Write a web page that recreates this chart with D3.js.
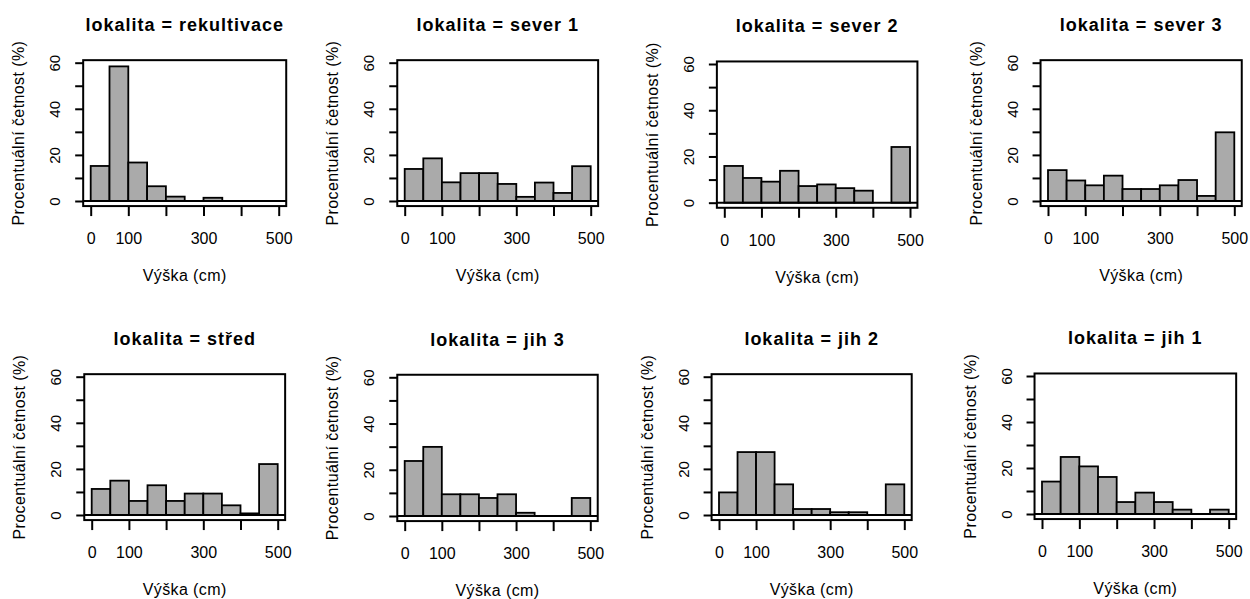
<!DOCTYPE html>
<html>
<head>
<meta charset="utf-8">
<script src="https://cdn.jsdelivr.net/npm/d3@7"></script>
<style>
body { margin: 0; background: #fff; }
text { font-family: "Liberation Sans", Arial, sans-serif; fill: #000; }
.title { font-size: 18px; font-weight: bold; letter-spacing: 1px; }
.axistitle { font-size: 16px; letter-spacing: 0.4px; }
</style>
</head>
<body>
<script>
// histogram bins (cm)
var binEdges = [0, 50, 100, 150, 200, 250, 300, 350, 400, 450, 500];

var lokality = ["rekultivace", "sever 1", "sever 2", "sever 3", "střed", "jih 3", "jih 2", "jih 1"];

// percent per bin
var rekultivace = [15.2, 58.4, 16.7, 6.4, 1.9, 0, 1.4, 0, 0, 0];
var sever1 = [13.9, 18.5, 8.1, 12.1, 12.1, 7.4, 1.8, 8.0, 3.5, 15.1];
var sever2 = [15.9, 10.7, 9.1, 13.8, 7.2, 7.9, 6.3, 5.2, 0, 24.1];
var sever3 = [13.4, 8.9, 6.8, 11.0, 5.2, 5.2, 6.8, 9.1, 2.2, 29.8];
var stred = [11.3, 14.9, 6.1, 12.9, 6.1, 9.3, 9.3, 4.2, 0.7, 22.1];
var jih3 = [23.8, 29.9, 9.4, 9.4, 7.8, 9.4, 1.4, 0, 0, 7.8];
var jih2 = [9.8, 27.3, 27.3, 13.3, 2.6, 2.6, 1.2, 1.2, 0, 13.3];
var jih1 = [14.1, 24.8, 20.7, 16.1, 5.2, 9.3, 5.2, 1.9, 0, 1.9];

var series = [rekultivace, sever1, sever2, sever3, stred, jih3, jih2, jih1];

var xTicks = [0, 100, 200, 300, 400, 500];
var xTickLabels = ["0", "100", "", "300", "", "500"];
var yTicks = [0, 10, 20, 30, 40, 50, 60];
var yTickLabels = ["0", "", "20", "", "40", "", "60"];

// pixel position of x=0, x=500, y=0, y=60 in each panel
var layout = [
    { x0: 90.7, x500: 278.7, y0: 201, y60: 62.7 },
    { x0: 404.7, x500: 590.7, y0: 201, y60: 62.7 },
    { x0: 724.3, x500: 910, y0: 202.7, y60: 64 },
    { x0: 1048, x500: 1234.3, y0: 201, y60: 62.7 },
    { x0: 91.7, x500: 277.7, y0: 515, y60: 376.7 },
    { x0: 404.7, x500: 590.3, y0: 516, y60: 377.3 },
    { x0: 719, x500: 904.3, y0: 515, y60: 376.7 },
    { x0: 1042, x500: 1228.7, y0: 514, y60: 376 }
];

var svg = d3.select("body").append("svg")
    .attr("width", 1250)
    .attr("height", 599);

svg.append("rect")
    .attr("width", 1250)
    .attr("height", 599)
    .attr("fill", "#fff");

function show_panel(name, values, pos) {
    var x = d3.scaleLinear().domain([0, 500]).range([pos.x0, pos.x500]);
    var y = d3.scaleLinear().domain([0, 60]).range([pos.y0, pos.y60]);
    var left = x(-20), right = x(520), top = y(61.1), bottom = y(-2.2);

    var g = svg.append("g");

    var bins = values.map(function (v, i) {
        return { x0: binEdges[i], x1: binEdges[i + 1], v: v };
    }).filter(function (d) { return d.v > 0; });

    g.selectAll(".bar")
        .data(bins)
        .enter().append("rect")
        .attr("class", "bar")
        .attr("x", function (d) { return x(d.x0); })
        .attr("width", function (d) { return x(d.x1) - x(d.x0); })
        .attr("y", function (d) { return y(d.v); })
        .attr("height", function (d) { return y(0) - y(d.v); })
        .attr("fill", "#aaaaaa")
        .attr("stroke", "#000")
        .attr("stroke-width", 1.8);

    // zero line
    g.append("line")
        .attr("x1", left)
        .attr("x2", right)
        .attr("y1", y(0))
        .attr("y2", y(0))
        .attr("stroke", "#000")
        .attr("stroke-width", 2);

    g.append("rect")
        .attr("x", left)
        .attr("y", top)
        .attr("width", right - left)
        .attr("height", bottom - top)
        .attr("fill", "none")
        .attr("stroke", "#000")
        .attr("stroke-width", 2);

    var xa = g.append("g")
        .attr("transform", "translate(0," + bottom + ")")
        .call(d3.axisBottom(x)
            .tickValues(xTicks)
            .tickFormat(function (d, i) { return xTickLabels[i]; })
            .tickSize(10)
            .tickSizeOuter(0));
    xa.select(".domain").remove();
    xa.selectAll("line").attr("stroke-width", 2);
    xa.selectAll("text")
        .attr("y", 38)
        .attr("dy", 0)
        .style("font-size", "16px")
        .style("font-family", '"Liberation Sans", Arial, sans-serif');

    var ya = g.append("g")
        .attr("transform", "translate(" + left + ",0)")
        .call(d3.axisLeft(y)
            .tickValues(yTicks)
            .tickFormat(function (d, i) { return yTickLabels[i]; })
            .tickSize(8)
            .tickSizeOuter(0));
    ya.select(".domain").remove();
    ya.selectAll("line").attr("stroke-width", 2);
    ya.selectAll("text")
        .attr("transform", "rotate(-90)")
        .attr("x", 0)
        .attr("y", -23)
        .attr("dy", 0)
        .style("text-anchor", "middle")
        .style("font-size", "15px")
        .style("font-family", '"Liberation Sans", Arial, sans-serif');

    g.append("text")
        .attr("class", "title")
        .attr("x", (left + right) / 2)
        .attr("y", top - 29)
        .style("text-anchor", "middle")
        .text("lokalita = " + name);

    g.append("text")
        .attr("class", "axistitle")
        .attr("x", (left + right) / 2)
        .attr("y", y(0) + 80)
        .style("text-anchor", "middle")
        .text("Výška (cm)");

    g.append("text")
        .attr("class", "axistitle")
        .attr("transform", "translate(" + (left - 59) + "," + ((top + bottom) / 2) + ") rotate(-90)")
        .style("text-anchor", "middle")
        .text("Procentuální četnost (%)");
}

lokality.forEach(function (name, i) {
    show_panel(name, series[i], layout[i]);
});
</script>
</body>
</html>
